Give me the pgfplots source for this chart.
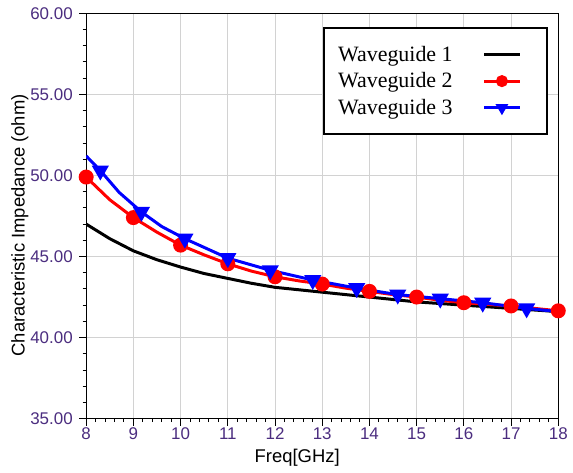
\documentclass[border=0pt]{standalone}
\usepackage{pgfplots}
\pgfplotsset{compat=1.18}
\usepackage{fontspec}
\setmainfont{Liberation Sans}
\newfontfamily\timesfont{Liberation Serif}
\definecolor{ticktxt}{HTML}{4B2D7F}
\begin{document}
\begin{tikzpicture}
\begin{axis}[
  scale only axis,
  width=474pt, height=407pt,
  xmin=8, xmax=18, ymin=35, ymax=60,
  xtick={8,...,18}, ytick={35,40,...,60},
  minor x tick num=4, minor y tick num=4,
  tick pos=left, tick align=outside,
  major tick length=7pt, minor tick length=3.5pt,
  every tick/.style={black, line width=1pt},
  axis line style={black, line width=1.3pt},
  grid=major,
  major grid style={draw=gray!35, line width=1pt},
  /pgf/number format/assume math mode=true,
  tick label style={font=\fontsize{17}{20}\selectfont, color=ticktxt},
  yticklabel style={xshift=-3pt, /pgf/number format/.cd, fixed, fixed zerofill, precision=2},
  xticklabel style={yshift=1pt},
  label style={font=\fontsize{18.5}{21}\selectfont},
  xlabel={Freq[GHz]},
  ylabel={Characteristic Impedance (ohm)},
  every axis x label/.append style={at={(ticklabel cs:0.447)}},
  every axis y label/.append style={at={(ticklabel cs:0.477)}},
  xlabel style={yshift=-2pt},
  ylabel style={yshift=-5pt},
  legend plot pos=right,
  legend cell align=left,
  legend image code/.code={\draw[#1,mark indices={2},mark size=4.5pt] plot coordinates {(28pt,0pt) (46pt,0pt) (64pt,0pt)};
    \path (0pt,0pt) (78pt,0pt);},
  legend style={at={(0.979,0.966)}, anchor=north east, draw=black, line width=2.2pt,
    fill=white, font=\timesfont\fontsize{22}{25}\selectfont,
    inner xsep=12pt, inner ysep=16pt, row sep=6pt},
]
\addplot[black, line width=3pt] coordinates {
  (8,47.0) (8.5,46.1) (9,45.35) (9.5,44.8) (10,44.35) (10.5,43.95) (11,43.65) (11.5,43.35)
  (12,43.1) (12.5,42.95) (13,42.8) (13.5,42.65) (14,42.5) (14.5,42.35) (15,42.2) (15.5,42.1)
  (16,42.0) (16.5,41.9) (17,41.8) (17.5,41.7) (18,41.6)
};
\addlegendentry{Waveguide 1}
\addplot[red, line width=3pt, mark=*, mark size=6pt, mark options={solid},
  mark indices={1,3,5,7,9,11,13,15,17,19,21}] coordinates {
  (8,49.9) (8.5,48.5) (9,47.4) (9.5,46.5) (10,45.7) (10.5,45.1) (11,44.55) (11.5,44.1)
  (12,43.75) (12.5,43.5) (13,43.3) (13.5,43.05) (14,42.85) (14.5,42.65) (15,42.5) (15.5,42.3)
  (16,42.15) (16.5,42.05) (17,41.95) (17.5,41.8) (18,41.65)
};
\addlegendentry{Waveguide 2}
\addplot[blue, line width=3pt, mark=triangle*, mark size=7pt, mark options={solid, rotate=180},
  mark indices={2,4,6,7,8,9,10,11,12,13,14}] coordinates {
  (8,51.2) (8.3,50.3) (8.7,48.95) (9.17,47.75) (9.6,46.85) (10.09,46.1) (11,44.9) (11.9,44.15)
  (12.8,43.55) (13.73,43.05) (14.6,42.65) (15.5,42.4) (16.4,42.15) (17.33,41.8) (18,41.6)
};
\addlegendentry{Waveguide 3}
\end{axis}
\path ([xshift=-8pt]current bounding box.west);
\path ([xshift=2pt]current bounding box.east);
\path ([yshift=4pt]current bounding box.north);
\path ([yshift=-3pt]current bounding box.south);
\end{tikzpicture}
\end{document}
